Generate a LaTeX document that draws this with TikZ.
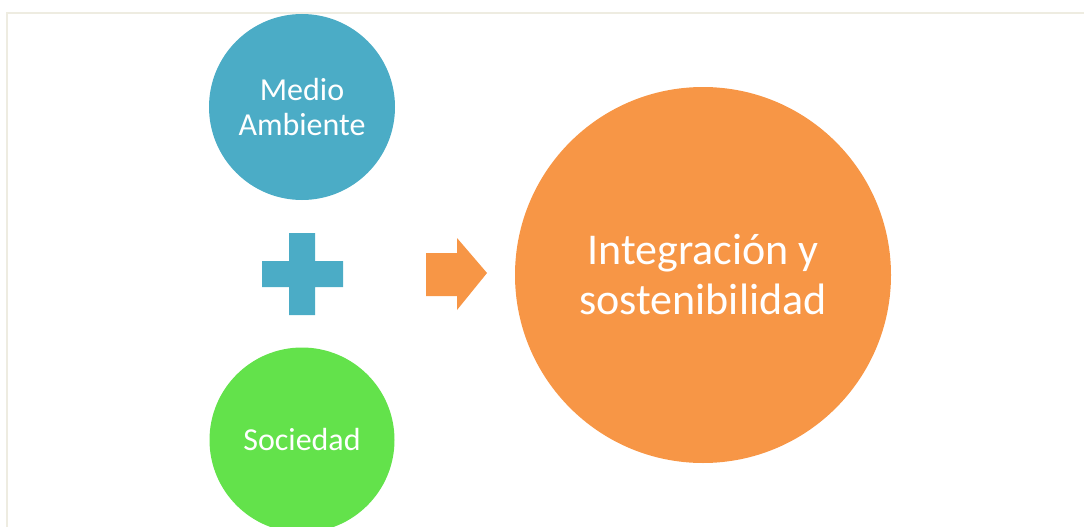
\documentclass[tikz,border=0pt]{standalone}
\usepackage{fontspec}
\setmainfont{Carlito}
\usepackage{xcolor}
\usetikzlibrary{positioning}
\definecolor{ambblue}{HTML}{4BACC6}
\definecolor{socgreen}{HTML}{63E24B}
\definecolor{intorange}{HTML}{F79646}
\definecolor{frameline}{HTML}{EEECE1}

\begin{document}
\begin{tikzpicture}[x=1pt,y=-1pt]
  \tikzstyle{ball}=[circle,inner sep=0pt,align=center,text=white]
  \useasboundingbox (0,0) rectangle (1084,527);
  \draw[frameline,line width=2pt] (7,13) rectangle (1100,560);
  \node[ball,fill=ambblue,minimum size=186pt,font=\fontsize{32}{35}\selectfont] (medio) at (302,107) {Medio\\Ambiente};
  \node[ball,fill=socgreen,minimum size=185pt,font=\fontsize{32}{35}\selectfont] (soc) at (302,440) {Sociedad};
  \node[ball,fill=intorange,minimum size=376pt,font=\fontsize{44}{50}\selectfont] (integ) at (703,275) {Integración y\\sostenibilidad};
  % plus sign
  \fill[ambblue] (289,233) -- (315,233) -- (315,261) -- (343,261) -- (343,287) -- (315,287)
    -- (315,315) -- (289,315) -- (289,287) -- (262,287) -- (262,261) -- (289,261) -- cycle;
  % arrow
  \fill[intorange] (426,253) -- (457,253) -- (457,238) -- (487,273) -- (457,310) -- (457,296)
    -- (426,296) -- cycle;
\end{tikzpicture}
\end{document}
